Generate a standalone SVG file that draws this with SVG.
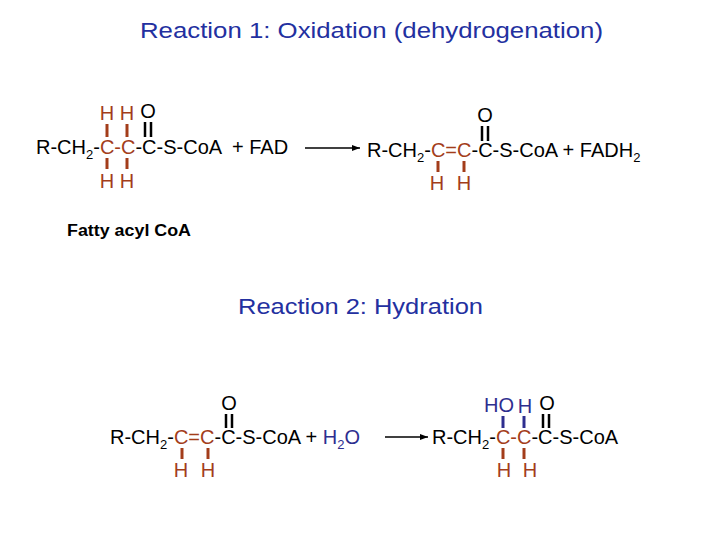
<svg xmlns="http://www.w3.org/2000/svg" width="720" height="540" viewBox="0 0 720 540">
<defs><marker id="ah" markerWidth="8" markerHeight="6" refX="8" refY="3" orient="auto" markerUnits="userSpaceOnUse"><path d="M0,0 L8,3 L0,6 Z" fill="#000"/></marker></defs>
<style>
text{font-family:"Liberation Sans",Arial,sans-serif;font-size:20px;fill:#000}
.t{fill:#2330a0;font-size:22px}
.b{fill:#a33d1a}
.u{fill:#2e2e8f}
.s{font-size:13px}
.bar{stroke:#a33d1a;stroke-width:3}
.ubar{stroke:#2e2e8f;stroke-width:3}
.dbl{stroke:#000;stroke-width:2.5}
.c{text-anchor:middle}
</style>
<text id="title1" class="t" x="140" y="38" textLength="463" lengthAdjust="spacingAndGlyphs">Reaction 1: Oxidation (dehydrogenation)</text>
<g id="reactant1">
<text x="36" y="154">R-CH<tspan class="s" dy="5">2</tspan><tspan dy="-5">-</tspan><tspan class="b">C-C</tspan>-C-S-CoA</text>
<text x="232" y="154">+ FAD</text>
<text class="b c" x="107" y="120">H</text><text class="b c" x="127" y="120">H</text><text class="c" x="148" y="118">O</text>
<line class="bar" x1="107" y1="124" x2="107" y2="137"/><line class="bar" x1="127" y1="124" x2="127" y2="137"/>
<line class="dbl" x1="145" y1="122" x2="145" y2="137"/><line class="dbl" x1="151" y1="122" x2="151" y2="137"/>
<line class="bar" x1="107" y1="158" x2="107" y2="169"/><line class="bar" x1="127" y1="158" x2="127" y2="169"/>
<text class="b c" x="107" y="188">H</text><text class="b c" x="127" y="188">H</text>
</g>
<g id="product1">
<text x="367" y="157">R-CH<tspan class="s" dy="5">2</tspan><tspan dy="-5">-</tspan><tspan class="b">C=C</tspan>-C-S-CoA + FADH<tspan class="s" dy="5">2</tspan></text>
<text class="c" x="485" y="122">O</text>
<line class="dbl" x1="482" y1="126" x2="482" y2="141"/><line class="dbl" x1="488" y1="126" x2="488" y2="141"/>
<line class="bar" x1="438" y1="161" x2="438" y2="172"/><line class="bar" x1="464" y1="161" x2="464" y2="172"/>
<text class="b c" x="437" y="190">H</text><text class="b c" x="464" y="190">H</text>
</g>
<text id="label" x="67" y="236" style="font-size:16px;font-weight:bold" textLength="124" lengthAdjust="spacingAndGlyphs">Fatty acyl CoA</text>
<text id="title2" class="t" x="238" y="314" textLength="245" lengthAdjust="spacingAndGlyphs">Reaction 2: Hydration</text>
<g id="reactant2">
<text x="110" y="444">R-CH<tspan class="s" dy="5">2</tspan><tspan dy="-5">-</tspan><tspan class="b">C=C</tspan>-C-S-CoA + <tspan class="u">H</tspan><tspan class="u s" dy="5">2</tspan><tspan class="u" dy="-5">O</tspan></text>
<text class="c" x="229" y="410">O</text>
<line class="dbl" x1="226" y1="414" x2="226" y2="428"/><line class="dbl" x1="232" y1="414" x2="232" y2="428"/>
<line class="bar" x1="182" y1="448" x2="182" y2="459"/><line class="bar" x1="208" y1="448" x2="208" y2="459"/>
<text class="b c" x="181" y="477">H</text><text class="b c" x="208" y="477">H</text>
</g>
<g id="product2">
<text x="432" y="444">R-CH<tspan class="s" dy="5">2</tspan><tspan dy="-5">-</tspan><tspan class="b">C-C</tspan>-C-S-CoA</text>
<text class="u c" x="499" y="412">HO</text><text class="u c" x="525" y="413">H</text><text class="c" x="547" y="410">O</text>
<line class="ubar" x1="503" y1="416" x2="503" y2="428"/><line class="ubar" x1="524" y1="416" x2="524" y2="428"/>
<line class="dbl" x1="543" y1="414" x2="543" y2="428"/><line class="dbl" x1="549" y1="414" x2="549" y2="428"/>
<line class="bar" x1="503" y1="448" x2="503" y2="459"/><line class="bar" x1="524" y1="448" x2="524" y2="459"/>
<text class="b c" x="504" y="477">H</text><text class="b c" x="530" y="477">H</text>
</g>
<g id="connectors">
<line x1="305" y1="148" x2="360" y2="148" stroke="#000" stroke-width="1.5" marker-end="url(#ah)"/>
<line x1="385" y1="437" x2="428" y2="437" stroke="#000" stroke-width="1.5" marker-end="url(#ah)"/>
</g>
</svg>
